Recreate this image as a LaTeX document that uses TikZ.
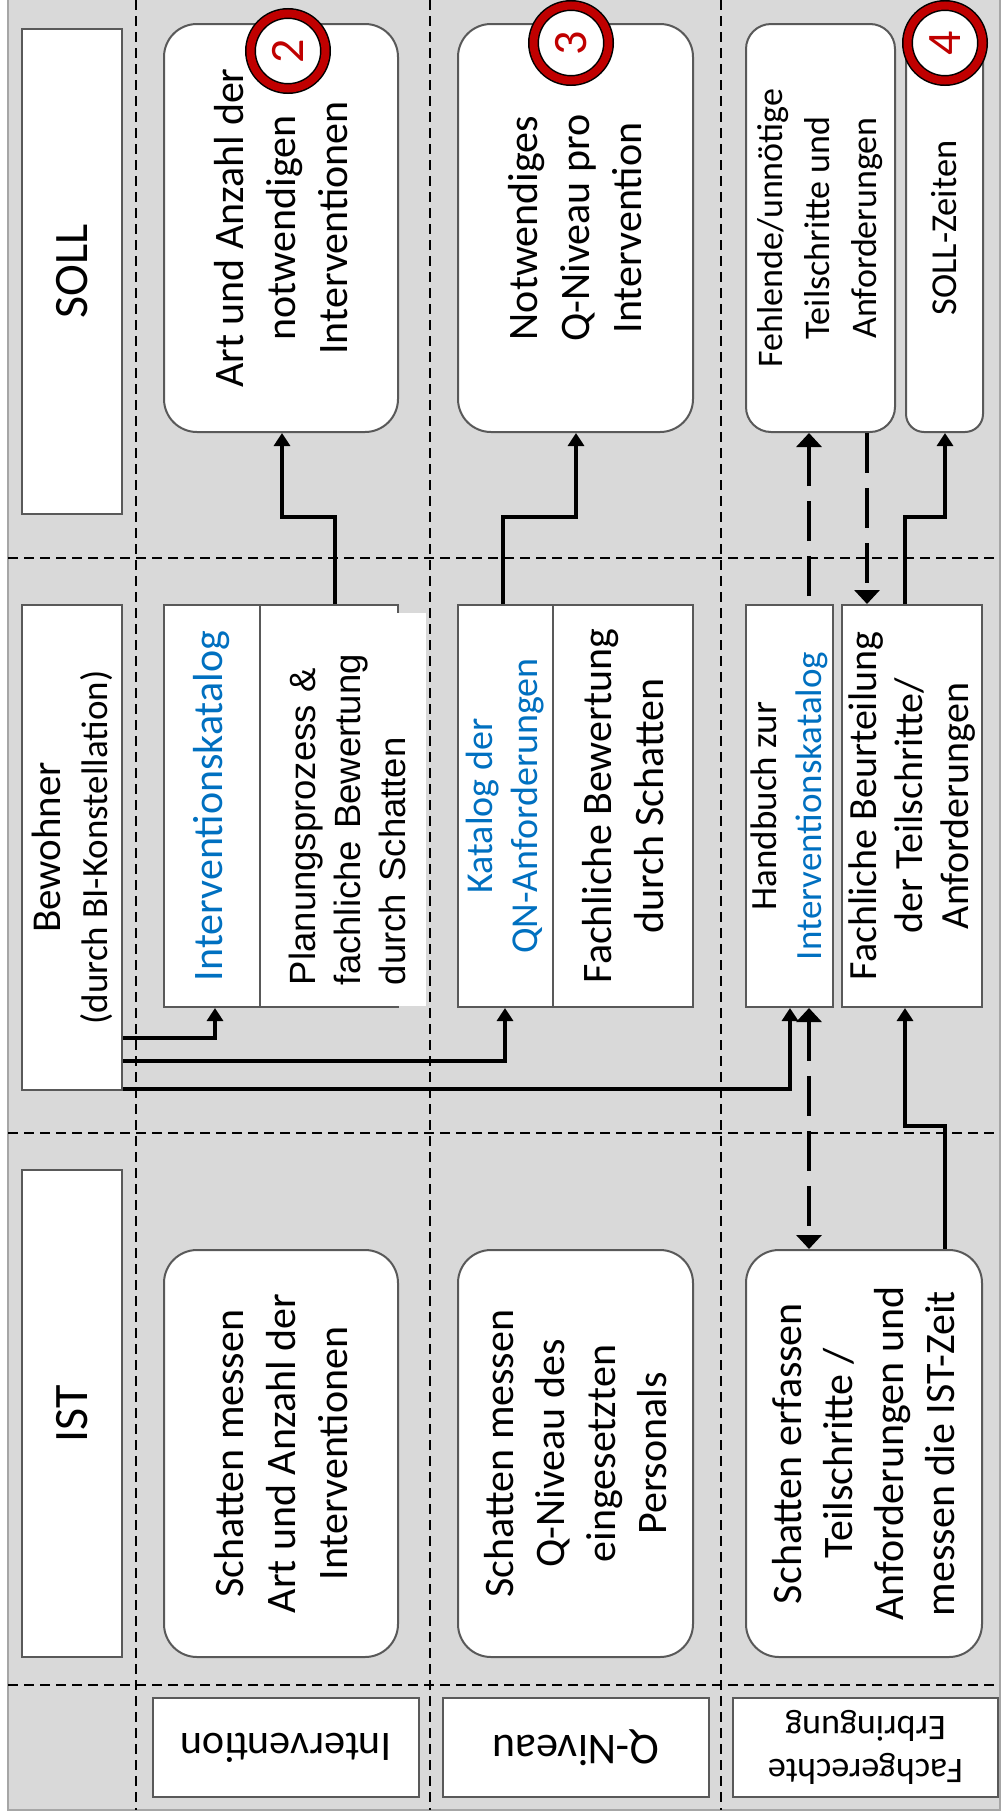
\documentclass[tikz,border=0pt]{standalone}
\usepackage{fontspec}
\setmainfont{Carlito}
\newfontfamily\arialfont{Liberation Sans}
\usetikzlibrary{arrows.meta}
\definecolor{bggray}{HTML}{D9D9D9}
\definecolor{framegray}{HTML}{A6A6A6}
\definecolor{boxgray}{HTML}{595959}
\definecolor{ringred}{HTML}{C00000}
\definecolor{katblue}{HTML}{0070C0}
\newcommand{\myfs}[2]{\fontsize{#1}{#2}\selectfont}
\begin{document}
\begin{tikzpicture}[x=1pt, y=-1pt,
  vbox/.style 2 args={draw=boxgray, line width=2pt, fill=white, rotate=90, inner sep=0pt, align=center, minimum height=#1, minimum width=#2, font=\myfs{42}{52}},
  rbox/.style 2 args={vbox={#1}{#2}, rounded corners=33pt},
  lbox/.style={draw=boxgray, line width=2pt, fill=white, rotate=180, inner sep=0pt, align=center, minimum width=266pt, minimum height=99pt, font=\myfs{42}{52}},
  ring/.style={circle, draw=black, line width=1.5pt, double=ringred, double distance=8pt, fill=white, minimum size=75pt, inner sep=0pt, rotate=90, text=ringred, font=\myfs{48}{48}},
  sepline/.style={line width=1.3pt, dash pattern=on 10pt off 6pt},
  conn/.style={line width=4.5pt, -{Triangle[length=13pt,width=16pt]}},
  dconn/.style={line width=4.5pt, dash pattern=on 40pt off 15pt, -{Triangle[length=14pt,width=25pt]}},
]
\useasboundingbox (0,0) rectangle (1002,1818);
\fill[white] (0,0) rectangle (1002,1818);
\fill[bggray] (8,0) rectangle (1000,1810);
\draw[framegray, line width=2.5pt] (8,0) -- (8,1810) -- (1000,1810) -- (1000,0);

% separators
\draw[sepline] (136,0) -- (136,1810);
\draw[sepline] (430,0) -- (430,1810);
\draw[sepline] (721,0) -- (721,1810);
\draw[sepline] (8,558) -- (1000,558);
\draw[sepline] (8,1133) -- (1000,1133);
\draw[sepline] (8,1685) -- (1000,1685);

% headers
\node[vbox={100}{485}, font=\myfs{48}{58}] (hSoll) at (72,271.5) {SOLL};
\node[vbox={100}{485}, font=\myfs{41}{47}] (hBew) at (72,847.5) {Bewohner\\{\myfs{37}{47}(durch BI-Konstellation)}};
\node[vbox={100}{487}, font=\myfs{48}{58}] (hIst) at (72,1413.5) {IST};

% SOLL column
\node[rbox={234}{408}] (sA) at (281,228) {Art und Anzahl der\\notwendigen\\Interventionen};
\node[rbox={235}{408}] (sB) at (575.5,228) {Notwendiges\\Q-Niveau pro\\Intervention};
\node[rbox={149}{408}, rounded corners=25pt, font=\myfs{36}{47}] (sC) at (820.5,228) {Fehlende/unnötige\\Teilschritte und\\Anforderungen};
\node[rbox={77}{408}, rounded corners=18pt, font=\myfs{36.5}{44}] (sD) at (944.5,228) {SOLL-Zeiten};

% Bewohner column
\node[vbox={96}{402}, text=katblue, font=\myfs{42}{50}] (bA) at (212,806) {Interventionskatalog};
\node[vbox={138}{402}] (planbox) at (329,806) {};
\node[rotate=90, fill=white, inner ysep=0pt, inner xsep=21pt, minimum width=393pt, minimum height=158pt, text width=351pt, align=left, font=\arialfont\myfs{36.5}{45}] (plan) at (347,809.5) {Planungsprozess \&\\fachliche Bewertung\\durch Schatten};
\node[vbox={95}{402}, text=katblue, font=\myfs{38}{45}] (bB) at (505.5,806) {Katalog der\\QN-Anforderungen};
\node[vbox={140}{402}] (bC) at (623,806) {Fachliche Bewertung\\durch Schatten};
\node[vbox={87}{402}, font=\myfs{37}{45}] (bD) at (789.5,806) {Handbuch zur\\\textcolor{katblue}{Interventionskatalog}};
\node[vbox={140}{402}, font=\myfs{40}{46}] (bE) at (912,806) {Fachliche Beurteilung\\der Teilschritte/\\Anforderungen};

% IST column
\node[rbox={234}{407}] (iA) at (281,1453.5) {Schatten messen\\Art und Anzahl der\\Interventionen};
\node[rbox={235}{407}, font=\myfs{42}{51}] (iB) at (575.5,1453.5) {Schatten messen\\Q-Niveau des\\eingesetzten\\Personals};
\node[rbox={236}{407}, font=\myfs{42}{51}] (iC) at (864,1453.5) {Schatten erfassen\\Teilschritte /\\Anforderungen und\\messen die IST-Zeit};

% row labels
\node[lbox] (lA) at (286,1747.5) {Intervention};
\node[lbox, font=\myfs{44}{52}] (lB) at (576,1747.5) {Q-Niveau};
\node[lbox, minimum width=265pt, font=\myfs{36}{43}] (lC) at (865.5,1747.5) {Fachgerechte\\Erbringung};

% bend points
\coordinate (k1) at (335,517);  \coordinate (k1b) at (282,517);
\coordinate (k2) at (503,517);  \coordinate (k2b) at (576,517);
\coordinate (k5) at (905,517);  \coordinate (k5b) at (945,517);
\coordinate (k6) at (215,1038);
\coordinate (k7) at (505,1061);
\coordinate (k8) at (790,1089);
\coordinate (k10) at (945,1126); \coordinate (k10b) at (905,1126);
\coordinate (xa) at (809,0);
\coordinate (xb) at (867,0);

% connectors
\draw[conn] (planbox.east -| k1) -- (k1) -- (k1b) -- (sA.west -| k1b);
\draw[conn] (bB.east -| k2) -- (k2) -- (k2b) -- (sB.west -| k2b);
\draw[dconn, shorten <=8pt] (bD.east -| xa) -- (sC.west -| xa);
\draw[dconn] (sC.west -| xb) -- (bE.east -| xb);
\draw[conn] (bE.east -| k5) -- (k5) -- (k5b) -- (sD.west -| k5b);
\draw[conn] (hBew.south |- k6) -- (k6) -- (bA.west -| k6);
\draw[conn] (hBew.south |- k7) -- (k7) -- (bB.west -| k7);
\draw[conn] (hBew.south |- k8) -- (k8) -- (bD.west -| k8);
\draw[dconn, {Triangle[length=14pt,width=25pt]}-{Triangle[length=14pt,width=25pt]}] (bD.west -| xa) -- (iC.east -| xa);
\draw[conn] (iC.east -| k10) -- (k10) -- (k10b) -- (bE.west -| k10b);

% numbered markers
\node[ring] (c2) at (288,51) {2};
\node[ring] (c3) at (571,43) {3};
\node[ring] (c4) at (945,43) {4};
\end{tikzpicture}
\end{document}
